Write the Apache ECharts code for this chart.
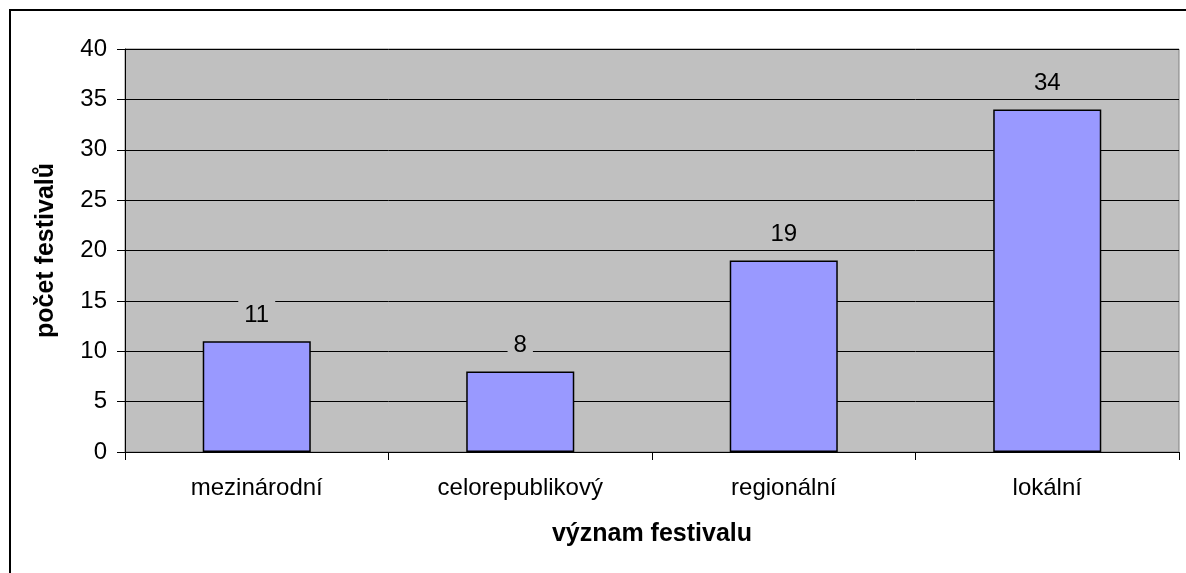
<!DOCTYPE html>
<html>
<head>
<meta charset="utf-8">
<script src="https://cdn.jsdelivr.net/npm/echarts@6/dist/echarts.min.js"></script>
<style>
    html, body {margin: 0; padding: 0; background: #FFFFFF;}
    #chart {width: 1186px; height: 573px;}
</style>
</head>
<body>
<div id="chart"></div>
<script>
//  kategorie
const categories = ['mezinárodní', 'celorepublikový', 'regionální', 'lokální'];
//  počet festivalů
const values = [11, 8, 19, 34];
//  osa y
const yMin = 0;
const yMax = 40;
const yStep = 5;

const fontFamily = '"Liberation Sans", Arial, sans-serif';

const festivalOption = function () {
    return {
        animation: false,
        backgroundColor: '#FFFFFF',
        //  rámeček kolem celého grafu
        graphic: [
            {
                type: 'rect',
                left: 9,
                top: 9,
                shape: {width: 1300, height: 700},
                style: {fill: 'transparent', stroke: '#000000', lineWidth: 2},
                silent: true,
                z: 100,
            }
        ],
        grid: {
            left: 125,
            right: 7,
            top: 49,
            bottom: 121,
            show: true,
            backgroundColor: '#C0C0C0',
            borderColor: '#808080',
            borderWidth: 1,
        },
        xAxis: {
            type: 'category',
            data: categories,
            name: 'význam festivalu',
            nameLocation: 'middle',
            nameGap: 70,
            nameTextStyle: {
                color: '#000000',
                fontSize: 25,
                fontWeight: 'bold',
                fontFamily: fontFamily,
            },
            axisLine: {lineStyle: {color: '#000000', width: 1}},
            axisTick: {
                show: true,
                length: 8,
                lineStyle: {color: '#000000', width: 1},
            },
            axisLabel: {
                color: '#000000',
                fontSize: 24,
                fontFamily: fontFamily,
                margin: 24,
                interval: 0,
            },
            splitLine: {show: false},
        },
        yAxis: {
            type: 'value',
            min: yMin,
            max: yMax,
            interval: yStep,
            name: 'počet festivalů',
            nameLocation: 'middle',
            nameGap: 66,
            nameTextStyle: {
                color: '#000000',
                fontSize: 25,
                fontWeight: 'bold',
                fontFamily: fontFamily,
            },
            axisLine: {show: true, lineStyle: {color: '#000000', width: 1}},
            axisTick: {
                show: true,
                length: 8,
                lineStyle: {color: '#000000', width: 1},
            },
            axisLabel: {
                color: '#000000',
                fontSize: 24,
                fontFamily: fontFamily,
                margin: 18,
            },
            splitLine: {lineStyle: {color: '#000000', width: 1}},
        },
        series: [
            {
                type: 'bar',
                data: values,
                barCategoryGap: '59%',
                itemStyle: {
                    color: '#9999FF',
                    borderColor: '#000000',
                    borderWidth: 1.5,
                },
                //  popisky hodnot
                label: {
                    show: true,
                    position: 'top',
                    distance: 11,
                    color: '#000000',
                    fontSize: 24,
                    fontFamily: fontFamily,
                    backgroundColor: '#C0C0C0',
                    padding: [3, 6],
                },
            }
        ],
    };
};

const myChart = echarts.init(document.getElementById('chart'));
myChart.setOption(festivalOption());
</script>
</body>
</html>
